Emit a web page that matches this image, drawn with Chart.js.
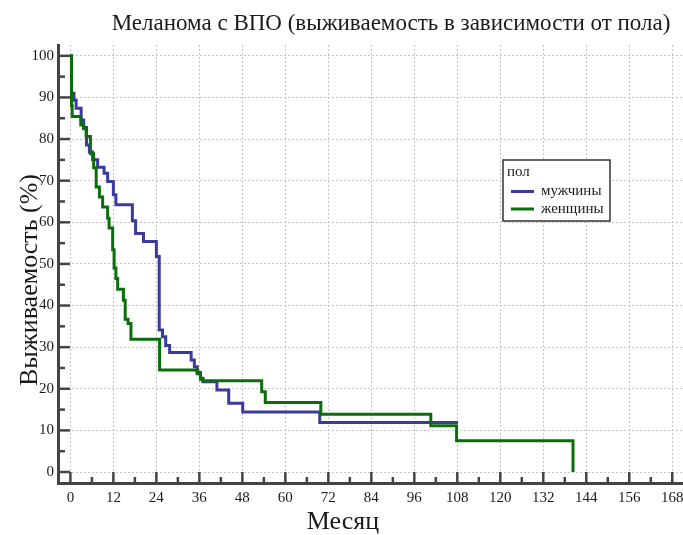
<!DOCTYPE html>
<html>
<head>
<meta charset="utf-8">
<script src="https://cdn.jsdelivr.net/npm/chart.js@4.4.0/dist/chart.umd.min.js"></script>
<style>
  body { margin: 0; background: #fff; }
  canvas { display: block; }
</style>
</head>
<body>
<canvas id="kmChart" width="683" height="535"></canvas>
<script>
  const titleText = 'Меланома с ВПО (выживаемость в зависимости от пола)';
  const xTitle = 'Месяц';
  const yTitle = 'Выживаемость (%)';
  const legendTitle = 'пол';

  const xTicks = [0, 12, 24, 36, 48, 60, 72, 84, 96, 108, 120, 132, 144, 156, 168];
  const yTicks = [0, 10, 20, 30, 40, 50, 60, 70, 80, 90, 100];

  // Kaplan-Meier steps: month where the curve drops, and the new survival value
  const menLabel = 'мужчины';
  const menMonths = [0, 0.3, 1.0, 1.6, 3.0, 3.7, 4.5, 5.3, 6.2, 7.6, 9.4, 10.4, 12.0, 12.7, 17.3, 18.2, 20.4,
    24.0, 24.8, 25.7, 26.6, 27.7, 33.7, 34.6, 35.4, 36.3, 37.0, 40.9, 44.2, 48.1, 69.6, 108.2];
  const menSurv = [100, 91, 89.3, 87.4, 84.6, 82.8, 78.6, 76.9, 75, 73.2, 71.8, 69.8, 66.6, 64.2, 60.4, 57.3, 55.4,
    51.8, 34.1, 32.5, 30.4, 28.7, 26.9, 25.3, 23.9, 22.5, 21.7, 19.7, 16.5, 14.4, 11.9, 11.9];

  const womenLabel = 'женщины';
  const womenMonths = [0, 0.3, 0.5, 2.9, 3.7, 4.4, 5.6, 6.5, 7.2, 8.1, 9.0, 10.4, 10.8, 11.8, 12.2, 12.7, 13.2,
    14.8, 15.3, 16.1, 16.9, 24.9, 35.4, 36.3, 37.0, 53.4, 54.4, 69.9, 100.6, 107.8, 140.3];
  const womenSurv = [100, 88, 85.4, 83.4, 82.5, 80.6, 76.5, 73.1, 68.5, 66.1, 63.7, 61, 58.6, 53.4, 49, 46.5, 43.9,
    41.3, 36.7, 35.7, 31.9, 24.5, 23.6, 22.3, 21.9, 19.3, 16.7, 13.9, 11.1, 7.5, 0];

  const serif = "'Liberation Serif', 'Times New Roman', serif";
  const menColor = '#3b3b9e';
  const womenColor = '#0b6e0b';

  function toPoints(xs, ys) {
    return xs.map((x, i) => ({ x: x, y: ys[i] }));
  }

  // ticks inside the plot, titles and the boxed legend
  const decor = {
    id: 'decor',
    afterDatasetsDraw(chart) {
      const ctx = chart.ctx;
      const area = chart.chartArea;
      const xs = chart.scales.x, ys = chart.scales.y;
      ctx.save();
      ctx.strokeStyle = '#444';
      ctx.lineWidth = 2.5;
      const seg = (x1, y1, x2, y2) => { ctx.beginPath(); ctx.moveTo(x1, y1); ctx.lineTo(x2, y2); ctx.stroke(); };
      xTicks.forEach((v, i) => {
        const px = xs.getPixelForValue(v);
        seg(px, area.bottom, px, area.bottom - 11);
        if (i < xTicks.length - 1) {
          const pm = xs.getPixelForValue((v + xTicks[i + 1]) / 2);
          seg(pm, area.bottom, pm, area.bottom - 6);
        }
      });
      yTicks.forEach((v, i) => {
        const py = ys.getPixelForValue(v);
        seg(area.left, py, area.left + 12, py);
        if (i < yTicks.length - 1) {
          const pm = ys.getPixelForValue((v + yTicks[i + 1]) / 2);
          seg(area.left, pm, area.left + 7, pm);
        }
      });
      ctx.restore();
    },
    afterDraw(chart) {
      const ctx = chart.ctx;
      ctx.save();
      ctx.fillStyle = '#1a1a1a';
      ctx.textBaseline = 'middle';
      ctx.textAlign = 'center';
      ctx.font = '23px ' + serif;
      ctx.fillText(titleText, 391, 24);
      ctx.font = '26px ' + serif;
      ctx.fillText(xTitle, 343, 522);
      ctx.save();
      ctx.translate(30, 280);
      ctx.rotate(-Math.PI / 2);
      ctx.fillText(yTitle, 0, 0);
      ctx.restore();

      // legend box
      ctx.fillStyle = '#fff';
      ctx.fillRect(503, 160, 107, 61);
      ctx.strokeStyle = '#333';
      ctx.lineWidth = 1.5;
      ctx.strokeRect(503, 160, 107, 61);
      ctx.fillStyle = '#1a1a1a';
      ctx.textAlign = 'left';
      ctx.font = '15px ' + serif;
      ctx.fillText(legendTitle, 507, 172);
      chart.data.datasets.forEach((ds, i) => {
        const y = 191.5 + i * 17.5;
        ctx.strokeStyle = ds.borderColor;
        ctx.lineWidth = 3;
        ctx.beginPath();
        ctx.moveTo(511, y);
        ctx.lineTo(534, y);
        ctx.stroke();
        ctx.fillText(ds.label, 541, y);
      });
      ctx.restore();
    }
  };

  const ctx = document.getElementById('kmChart').getContext('2d');
  const kmChart = new Chart(ctx, {
    type: 'line',
    data: {
      datasets: [{
        label: menLabel,
        data: toPoints(menMonths, menSurv),
        borderColor: menColor,
        borderWidth: 3,
        stepped: 'before',
        pointRadius: 0,
        fill: false,
        order: 1
      }, {
        label: womenLabel,
        data: toPoints(womenMonths, womenSurv),
        borderColor: womenColor,
        borderWidth: 3,
        stepped: 'before',
        pointRadius: 0,
        fill: false,
        order: 0
      }]
    },
    options: {
      responsive: false,
      animation: false,
      layout: { padding: { top: 45, left: 0, right: 0, bottom: 0 } },
      plugins: {
        legend: { display: false },
        tooltip: { enabled: false }
      },
      scales: {
        x: {
          type: 'linear',
          min: -3.46,
          max: 171,
          afterBuildTicks: s => { s.ticks = xTicks.map(v => ({ value: v })); },
          afterFit: s => { s.height = 52; s.paddingLeft = 0; s.paddingRight = 0; },
          ticks: { color: '#1a1a1a', padding: 6, maxRotation: 0, autoSkip: false,
            font: { family: serif, size: 15 }, callback: v => v },
          grid: { color: '#c4c4c4', lineWidth: 1, drawTicks: false },
          border: { display: true, color: '#444', width: 3, dash: [2, 2] }
        },
        y: {
          type: 'linear',
          min: -2.64,
          max: 102.6,
          afterBuildTicks: s => { s.ticks = yTicks.map(v => ({ value: v })); },
          afterFit: s => { s.width = 58; s.paddingTop = 0; s.paddingBottom = 0; },
          ticks: { color: '#1a1a1a', padding: 4, autoSkip: false,
            font: { family: serif, size: 15 }, callback: v => v },
          grid: { color: '#c4c4c4', lineWidth: 1, drawTicks: false },
          border: { display: true, color: '#444', width: 3, dash: [2, 2] }
        }
      }
    },
    plugins: [decor]
  });
</script>
</body>
</html>
